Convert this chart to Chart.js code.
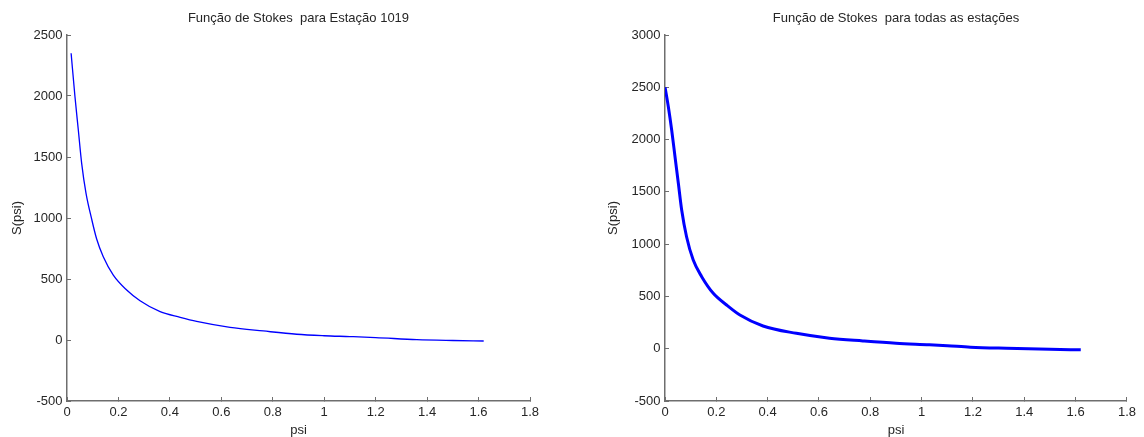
<!DOCTYPE html>
<html>
<head>
<meta charset="utf-8">
<script src="https://cdn.jsdelivr.net/npm/chart.js@4.4.1/dist/chart.umd.min.js"></script>
<style>
  html, body { margin: 0; padding: 0; background: #fff; }
  #wrap { position: relative; width: 1144px; height: 437px; }
  .box { position: absolute; top: 0; height: 437px; }
  #left { left: 0; width: 560px; }
  #right { left: 560px; width: 584px; }
</style>
</head>
<body>
<div id="wrap">
  <div class="box" id="left"><canvas id="cLeft"></canvas></div>
  <div class="box" id="right"><canvas id="cRight"></canvas></div>
</div>
<script>
// dados
var leftTitle = 'Função de Stokes  para Estação 1019';
var rightTitle = 'Função de Stokes  para todas as estações';

var psiEstacao = [0.016, 0.031, 0.044, 0.057, 0.074, 0.096, 0.115, 0.141, 0.18, 0.232, 0.284, 0.362, 0.44, 0.504, 0.634, 0.763, 0.893, 1.0, 1.1, 1.2, 1.36, 1.5, 1.62];
var sEstacao   = [2350, 1994, 1721, 1448, 1202, 990, 830, 683, 532, 410, 322, 232, 186, 153, 104, 74, 47, 35, 28, 20, 3, -4, -8];

var psiTodas = [0.0, 0.0066, 0.013, 0.026, 0.039, 0.052, 0.065, 0.084, 0.11, 0.143, 0.188, 0.24, 0.292, 0.382, 0.512, 0.641, 0.771, 0.9, 1.03, 1.1, 1.19, 1.33, 1.5, 1.62];
var sTodas   = [2500, 2410, 2314, 2092, 1836, 1582, 1326, 1071, 848, 689, 530, 418, 322, 217, 147, 100, 74, 52, 38, 29, 15, 4, -6, -10];

var xTicks = [0, 0.2, 0.4, 0.6, 0.8, 1, 1.2, 1.4, 1.6, 1.8];
var leftYTicks = [-500, 0, 500, 1000, 1500, 2000, 2500];
var rightYTicks = [-500, 0, 500, 1000, 1500, 2000, 2500, 3000];

var FONT = "'Liberation Sans', Arial, Helvetica, sans-serif";
var TXT = '#262626';
var AXIS = '#6e6e6e';

function toPoints(xs, ys){
  var pts = [];
  xs.forEach(function(v, i){ pts.push({x: v, y: ys[i]}); });
  return pts;
}

function fixedTicks(arr){
  return function(scale){
    scale.ticks = arr.map(function(v){ return {value: v}; });
  };
}

function makeChart(id, title, xs, ys, yTicks, lineW, opts){
  return new Chart(document.getElementById(id), {
    type: 'line',
    data: {
      datasets: [{
        data: toPoints(xs, ys),
        borderColor: '#0000ff',
        borderWidth: lineW,
        pointRadius: 0,
        cubicInterpolationMode: 'monotone',
        fill: false
      }]
    },
    options: {
      responsive: true,
      maintainAspectRatio: false,
      animation: false,
      layout: { padding: { left: 0, top: 0, bottom: 0, right: opts.padRight } },
      plugins: { legend: { display: false }, tooltip: { enabled: false }, title: { display: false } },
      scales: {
        x: {
          type: 'linear', position: 'bottom', min: 0, max: 1.8,
          afterBuildTicks: fixedTicks(xTicks),
          afterFit: function(s){ s.height = 36; },
          grid: { drawOnChartArea: false, drawTicks: true, tickLength: -4, color: AXIS, lineWidth: 1 },
          border: { display: true, color: AXIS, width: 1.5 },
          ticks: { color: TXT, padding: 8, maxRotation: 0, autoSkip: false,
                   font: { family: FONT, size: 13 },
                   callback: function(v){ return String(v); } },
          title: { display: true, text: 'psi', color: TXT, padding: { top: 0, bottom: 0 },
                   font: { family: FONT, size: 13, lineHeight: 1 } }
        },
        top: {
          type: 'linear', position: 'top', min: 0, max: 1.8,
          afterFit: function(s){ s.height = 35; },
          grid: { display: false }, border: { display: false },
          ticks: { display: false },
          title: { display: true, text: title, color: TXT, padding: { top: 10.2, bottom: 0 },
                   font: { family: FONT, size: 13 } }
        },
        y: {
          type: 'linear', position: 'left', min: yTicks[0], max: yTicks[yTicks.length - 1],
          afterBuildTicks: fixedTicks(yTicks),
          afterFit: function(s){ s.width = opts.yWidth; },
          grid: { drawOnChartArea: false, drawTicks: true, tickLength: -4, color: AXIS, lineWidth: 1 },
          border: { display: true, color: AXIS, width: 1.5 },
          ticks: { color: TXT, padding: 8.5, autoSkip: false,
                   font: { family: FONT, size: 13 },
                   callback: function(v){ return String(v); } },
          title: { display: true, text: 'S(psi)', color: TXT, padding: { top: opts.yTitlePad, bottom: 0 },
                   font: { family: FONT, size: 13, lineHeight: 1 } }
        }
      }
    }
  });
}

makeChart('cLeft', leftTitle, psiEstacao, sEstacao, leftYTicks, 1.3, { padRight: 30, yWidth: 67, yTitlePad: 10.5 });
makeChart('cRight', rightTitle, psiTodas, sTodas, rightYTicks, 3, { padRight: 16, yWidth: 105, yTitlePad: 46.5 });
</script>
</body>
</html>
